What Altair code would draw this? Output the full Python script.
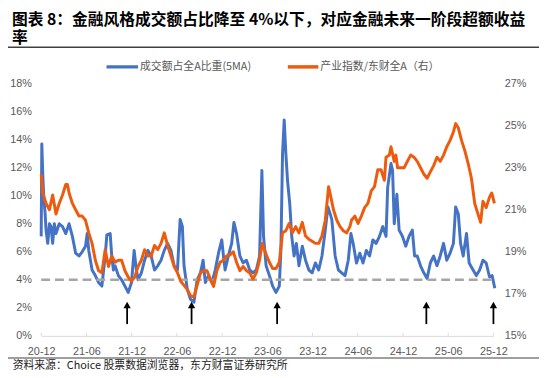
import altair as alt
import pandas as pd

# ---------------- data ----------------
title_line1 = "图表 8：金融风格成交额占比降至 4%以下，对应金融未来一阶段超额收益"
title_line2 = "率"
source_text = "资料来源：Choice 股票数据浏览器，东方财富证券研究所"
legend_labels = ["成交额占全A比重(5MA)", "产业指数/东财全A（右）"]

x_tick_labels = ["20-12", "21-06", "21-12", "22-06", "22-12", "23-06",
                 "23-12", "24-06", "24-12", "25-06", "25-12"]
x_tick_months = [0, 6, 12, 18, 24, 30, 36, 42, 48, 54, 60]
left_ticks = [0, 2, 4, 6, 8, 10, 12, 14, 16, 18]
right_ticks = [15, 17, 19, 21, 23, 25, 27]

# months since 2020-12
blue_month = [0.0, 0.08, 0.21, 0.34, 0.52, 0.65, 0.87, 1.09, 1.30, 1.52,
              1.74, 1.96, 2.39, 2.83, 3.26, 3.70, 4.14, 4.57, 5.01, 5.44,
              5.88, 6.10, 6.31, 6.75, 7.18, 7.62, 8.05, 8.49, 8.71, 9.15,
              9.36, 9.58, 9.80, 10.24, 10.67, 11.11, 11.54, 11.98, 12.33, 12.63,
              12.85, 13.29, 13.72, 14.16, 14.59, 15.03, 15.46, 15.90, 16.33, 16.77,
              17.21, 17.64, 18.08, 18.43, 18.73, 18.95, 19.39, 19.82, 20.26, 20.69,
              21.13, 21.48, 21.78, 22.21, 22.65, 23.09, 23.52, 23.96, 24.18, 24.40,
              24.83, 25.27, 25.57, 25.92, 26.36, 26.79, 27.23, 27.66, 28.10, 28.54,
              28.97, 29.28, 29.50, 29.84, 30.28, 30.71, 31.15, 31.59, 31.80, 32.02,
              32.24, 32.46, 32.68, 32.98, 33.24, 33.55, 33.85, 34.20, 34.64, 35.07,
              35.51, 35.95, 36.38, 36.82, 37.25, 37.69, 38.04, 38.34, 38.56, 39.00,
              39.43, 39.87, 40.31, 40.74, 41.09, 41.39, 41.83, 42.27, 42.70, 43.14,
              43.57, 44.01, 44.44, 44.88, 45.32, 45.75, 45.97, 46.41, 46.62, 46.84,
              47.19, 47.49, 47.93, 48.37, 48.80, 49.24, 49.54, 49.89, 50.33, 50.76,
              51.20, 51.63, 52.07, 52.51, 52.94, 53.38, 53.81, 54.25, 54.69, 54.99,
              55.34, 55.64, 55.99, 56.43, 56.78, 57.30, 57.73, 58.17, 58.61, 59.04,
              59.48, 59.83, 60.18]
blue_value = [7.1, 13.7, 11.5, 9.9, 8.7, 7.5, 6.6, 8.0, 7.8, 6.6,
              8.0, 7.3, 8.0, 7.8, 7.3, 8.0, 7.1, 5.9, 5.7, 6.0,
              6.4, 7.3, 6.1, 4.7, 4.3, 3.8, 3.55, 5.7, 7.2, 7.3,
              5.7, 4.7, 5.0, 4.3, 4.0, 3.55, 3.1, 3.8, 6.1, 4.7,
              4.0, 4.5, 5.4, 6.1, 5.7, 4.7, 5.0, 5.4, 6.1, 6.6,
              6.1, 5.0, 4.7, 8.3, 7.8, 5.0, 3.3, 2.6, 2.4, 4.0,
              4.5, 5.4, 3.8, 4.3, 3.8, 4.7, 5.9, 6.85, 5.7, 4.7,
              5.7, 6.6, 8.1, 7.3, 5.7, 5.2, 5.4, 4.7, 4.5, 4.7,
              5.7, 11.8, 7.1, 5.0, 4.3, 3.55, 3.1, 3.55, 6.1, 13.0,
              15.4, 13.0, 11.1, 9.4, 7.1, 5.7, 6.6, 5.0, 6.4, 5.4,
              4.7, 4.5, 5.2, 4.7, 5.7, 7.55, 9.2, 8.7, 8.3, 5.7,
              4.7, 4.5, 4.3, 5.4, 7.3, 6.6, 5.2, 5.9, 5.2, 6.1,
              5.7, 6.85, 6.6, 7.1, 7.8, 7.1, 10.6, 12.3, 11.8, 8.0,
              10.1, 7.55, 7.1, 6.4, 7.1, 7.55, 5.7, 5.7, 5.0, 4.5,
              4.1, 5.2, 5.7, 5.0, 5.7, 6.6, 5.4, 5.9, 6.6, 9.2,
              8.7, 6.6, 5.7, 7.3, 5.2, 4.7, 4.3, 4.7, 5.4, 5.2,
              4.2, 4.3, 3.4]

orange_month = [0.0, 0.21, 0.65, 1.09, 1.52, 1.96, 2.39, 2.83, 3.26, 3.48,
                3.70, 4.14, 4.57, 5.01, 5.44, 5.88, 6.31, 6.75, 7.18, 7.62,
                8.05, 8.49, 8.93, 9.36, 9.80, 10.24, 10.67, 11.11, 11.54, 11.98,
                12.41, 12.85, 13.29, 13.72, 14.16, 14.59, 15.03, 15.46, 15.90, 16.33,
                16.77, 17.21, 17.64, 18.08, 18.51, 18.95, 19.39, 19.82, 20.26, 20.69,
                21.13, 21.56, 22.00, 22.43, 22.87, 23.31, 23.74, 24.18, 24.61, 25.05,
                25.49, 25.92, 26.36, 26.79, 27.23, 27.66, 28.10, 28.54, 28.97, 29.32,
                29.62, 29.93, 30.28, 30.71, 31.15, 31.59, 32.02, 32.46, 32.89, 33.33,
                33.76, 34.20, 34.64, 35.07, 35.51, 35.95, 36.38, 36.82, 37.25, 37.69,
                38.13, 38.43, 38.78, 39.22, 39.65, 40.09, 40.52, 40.96, 41.17, 41.61,
                42.04, 42.48, 42.91, 43.35, 43.79, 44.22, 44.66, 45.09, 45.53, 45.75,
                46.19, 46.41, 46.84, 47.06, 47.28, 47.71, 48.15, 48.58, 49.02, 49.46,
                49.89, 50.33, 50.76, 51.20, 51.63, 52.07, 52.51, 52.94, 53.38, 53.81,
                54.25, 54.69, 54.99, 55.34, 55.77, 56.21, 56.65, 57.08, 57.52, 57.95,
                58.30, 58.61, 59.04, 59.48, 59.78, 60.13]
orange_value = [22.7, 21.8, 21.3, 21.0, 21.7, 20.8, 21.3, 21.7, 22.2, 22.2,
                21.8, 21.3, 21.0, 20.7, 20.7, 20.5, 19.9, 19.4, 18.6, 18.1,
                18.0, 19.1, 18.3, 18.8, 18.5, 18.6, 18.6, 18.1, 17.8, 17.6,
                17.8, 18.3, 18.6, 19.1, 18.8, 18.8, 19.3, 19.1, 19.4, 19.9,
                19.3, 18.8, 18.3, 18.0, 17.6, 17.4, 17.2, 16.9, 16.85, 17.4,
                18.0, 18.1, 18.1, 17.7, 17.35, 18.1, 18.5, 18.6, 18.8, 18.85,
                19.0, 18.5, 18.1, 18.3, 18.1, 18.0, 17.7, 18.0, 18.6, 19.4,
                19.1, 18.8, 18.5, 18.2, 18.2, 18.5, 19.9, 20.0, 20.35, 19.9,
                20.2, 19.9, 20.4, 19.75, 19.6, 19.5, 19.4, 19.4, 19.75, 20.5,
                22.1, 21.6, 21.0, 20.5, 20.2, 20.0, 19.9, 20.2, 20.5, 20.7,
                20.35, 20.7, 21.1, 21.3, 21.9, 22.1, 22.9, 22.9, 22.4, 23.5,
                23.6, 24.0, 23.3, 23.6, 23.0, 23.0, 23.0, 23.3, 23.6, 23.5,
                23.3, 23.0, 22.7, 22.5, 22.8, 23.1, 23.5, 23.3, 23.6, 24.0,
                24.3, 24.7, 25.1, 24.9, 24.3, 23.8, 23.2, 22.5, 21.3, 20.8,
                20.4, 21.4, 21.1, 21.6, 21.8, 21.3]

threshold_month = [0, 60]
threshold_value = [4, 4]
arrow_month = [11.4, 19.95, 31.3, 51.1, 60.0]

# ---------------- style ----------------
BLUE = "#4472C4"
ORANGE = "#EC5B0E"
LABEL = "#595959"
LATIN = "Liberation Sans"
CJK = "Noto Sans CJK SC"
W, H = 459, 256
PL, PT = 33.7, 74
PR, PB = 542 - PL - W, 370 - PT - H

label_expr = "[" + ",".join("'" + s + "'" for s in x_tick_labels) + "][round(datum.value/6)]"

x_axis = alt.Axis(values=x_tick_months, labelExpr=label_expr, grid=False, ticks=False,
                  domainColor="#D9D9D9", domainWidth=1, labelColor=LABEL, labelFont=LATIN,
                  labelFontSize=11, labelPadding=10, title=None, labelFlush=False,
                  labelOverlap=False)
x_scale = alt.Scale(domain=[0, 60], nice=False, zero=False)

left_axis = alt.Axis(orient="left", values=left_ticks, labelExpr="datum.value + '%'",
                     grid=False, ticks=False, domain=False, labelColor=LABEL,
                     labelFont=LATIN, labelFontSize=11, labelPadding=10, title=None,
                     labelOverlap=False, labelFlush=False, labelSeparation=0)
left_scale = alt.Scale(domain=[0, 18], nice=False, zero=False)

right_axis = alt.Axis(orient="right", values=right_ticks, labelExpr="datum.value + '%'",
                      grid=False, ticks=False, domain=False, labelColor=LABEL,
                      labelFont=LATIN, labelFontSize=11, labelPadding=11, title=None,
                      labelOverlap=False, labelFlush=False)
right_scale = alt.Scale(domain=[15, 27], nice=False, zero=False)


def X(field="m"):
    return alt.X(f"{field}:Q", scale=x_scale, axis=x_axis, title=None)


def YL(field="v"):
    return alt.Y(f"{field}:Q", scale=left_scale, axis=left_axis, title=None)


def YD(value):
    return alt.YDatum(value, scale=left_scale, axis=left_axis, title=None)


blue_df = pd.DataFrame({"m": blue_month, "v": blue_value})
orange_df = pd.DataFrame({"m": orange_month, "v": orange_value})
thr_df = pd.DataFrame({"m": threshold_month, "v": threshold_value})
arrow_df = pd.DataFrame({"m": arrow_month})
tick_df = pd.DataFrame({"m": x_tick_months})
one = pd.DataFrame({"a": [0]})

blue = alt.Chart(blue_df).mark_line(color=BLUE, strokeWidth=3, strokeJoin="round").encode(
    x=X(), y=YL())
thr = alt.Chart(thr_df).mark_line(color="#A6A6A6", strokeWidth=2.5, strokeDash=[9, 5]).encode(
    x=X(), y=YL())
ticks = alt.Chart(tick_df).mark_rule(color="#D9D9D9", strokeWidth=1).encode(
    x=X(), y=alt.value(H), y2=alt.value(H - 3))
shaft = alt.Chart(arrow_df).mark_rule(color="black", strokeWidth=1.8).encode(
    x=X(), y=YD(0.84), y2=alt.Y2Datum(2.05))
head = alt.Chart(arrow_df).mark_point(shape="triangle-up", filled=True, color="black",
                                      opacity=1, size=55).encode(
    x=X(), y=YD(2.2))


def txt(text, x, y, size, weight="normal", font=CJK, color="black"):
    return alt.Chart(one).mark_text(text=text, align="left", baseline="middle",
                                    fontSize=size, fontWeight=weight, font=font,
                                    color=color).encode(x=alt.value(x), y=alt.value(y))


def hrule(x1, x2, y, color, width):
    return alt.Chart(one).mark_rule(color=color, strokeWidth=width).encode(
        x=alt.value(x1), x2=alt.value(x2), y=alt.value(y))


ox, oy = 8 + PL, 8 + PT  # plot origin in page coords
decor = [
    txt(title_line1, 12 - ox, 17 - oy, 16, "bold"),
    txt(title_line2, 12 - ox, 36 - oy, 16, "bold"),
    hrule(3 - ox, 547 - ox, 45 - oy, "#404040", 1.5),
    hrule(3 - ox, 547 - ox, 360.5 - oy, "#404040", 1.2),
    txt(source_text, 12.7 - ox, 368.5 - oy, 11, color="#222222"),
    hrule(108 - ox, 140 - ox, 65 - oy, BLUE, 3.5),
    txt(legend_labels[0], 142 - ox, 65 - oy, 11, color=LABEL),
    hrule(292 - ox, 323 - ox, 65 - oy, ORANGE, 3.5),
    txt(legend_labels[1], 325 - ox, 65 - oy, 11, color=LABEL),
]

left_layer = alt.layer(blue, thr, ticks, shaft, head, *decor)

orange = alt.Chart(orange_df).mark_line(color=ORANGE, strokeWidth=3, strokeJoin="round").encode(
    x=X(), y=alt.Y("v:Q", scale=right_scale, axis=right_axis, title=None))

chart = alt.layer(left_layer, orange).resolve_scale(y="independent").properties(
    width=W, height=H,
    autosize=alt.AutoSizeParams(type="none"),
    padding={"left": PL, "top": PT, "right": PR, "bottom": PB},
    background="white",
).configure_view(stroke=None)

chart.save("out.html", embed_options={"renderer": "svg", "actions": False})
